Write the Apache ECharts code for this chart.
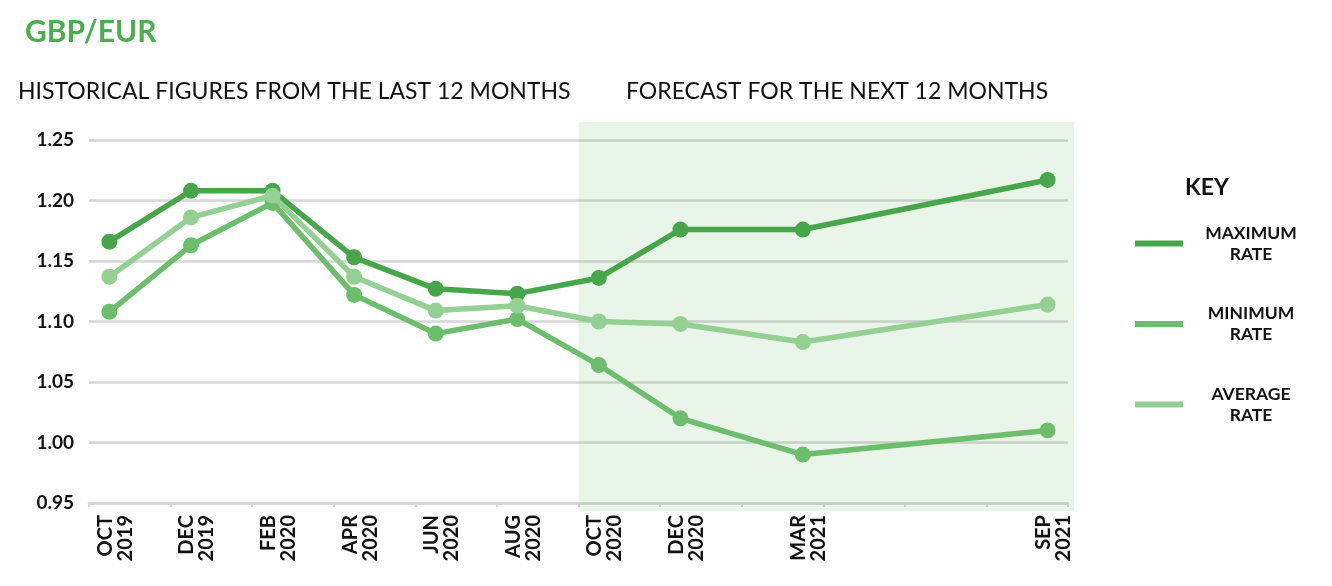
<!DOCTYPE html>
<html>
<head>
<meta charset="utf-8">
<script src="https://cdn.jsdelivr.net/npm/echarts@6/dist/echarts.min.js"></script>
<style>
html,body{margin:0;padding:0;background:#fff;}
#chart{width:1332px;height:586px;}
</style>
</head>
<body>
<div id="chart"></div>
<script>
// ---- data ----
const axisMonths = ['OCT 2019','NOV 2019','DEC 2019','JAN 2020','FEB 2020','MAR 2020','APR 2020','MAY 2020',
  'JUN 2020','JUL 2020','AUG 2020','SEP 2020','OCT 2020','NOV 2020','DEC 2020','JAN 2021','FEB 2021',
  'MAR 2021','APR 2021','MAY 2021','JUN 2021','JUL 2021','AUG 2021','SEP 2021'];
const dataMonths = ['OCT 2019','DEC 2019','FEB 2020','APR 2020','JUN 2020','AUG 2020','OCT 2020','DEC 2020','MAR 2021','SEP 2021'];
const maxRate = [1.166, 1.208, 1.208, 1.153, 1.127, 1.123, 1.136, 1.176, 1.176, 1.217];
const minRate = [1.108, 1.163, 1.198, 1.122, 1.090, 1.102, 1.064, 1.020, 0.990, 1.010];
const avgRate = [1.137, 1.186, 1.204, 1.137, 1.109, 1.113, 1.100, 1.098, 1.083, 1.114];
const seriesNames = ['MAXIMUM RATE', 'MINIMUM RATE', 'AVERAGE RATE'];
const forecastStart = 'OCT 2020';
const yTicks = [0.95, 1.00, 1.05, 1.10, 1.15, 1.20, 1.25];

const colors = ['#48a64a', '#6cbd6c', '#94d094'];
const FONT = 'Lato, "Noto Sans", sans-serif';

function pairs(vals) {
  return dataMonths.map((m, i) => [axisMonths.indexOf(m), vals[i]]);
}
// forecast band (in axis units): from half a month before the first forecast month
const fStart = axisMonths.indexOf(forecastStart) - 0.5;
const fEnd = axisMonths.length - 1 + 0.65;
const fTop = yTicks[yTicks.length - 1] + 0.0149;
const fBottom = yTicks[0] - 0.0066;

const chart = echarts.init(document.getElementById('chart'), null, {renderer: 'canvas'});

const lineSeries = [maxRate, minRate, avgRate].map((vals, i) => ({
  name: seriesNames[i],
  type: 'line',
  xAxisIndex: 1,
  yAxisIndex: 0,
  data: pairs(vals),
  symbol: 'circle',
  symbolSize: 16,
  lineStyle: {width: 5.5, color: colors[i]},
  itemStyle: {color: colors[i]},
  z: 2 + i,
  clip: false,
  animation: false
}));

const labelFont = {fontFamily: FONT, fontSize: 20, fontWeight: 'bold', color: '#111'};

chart.setOption({
  animation: false,
  backgroundColor: '#ffffff',
  title: [
    {text: 'GBP/EUR', left: 20, top: 12,
     textStyle: {fontFamily: FONT, fontSize: 30, fontWeight: 'bold', color: '#4cae4f', lineHeight: 30}},
    {text: 'HISTORICAL FIGURES FROM THE LAST 12 MONTHS', left: 13, top: 75,
     textStyle: {fontFamily: FONT, fontSize: 23, fontWeight: 'normal', color: '#111', lineHeight: 24}},
    {text: 'FORECAST FOR THE NEXT 12 MONTHS', left: 621, top: 75,
     textStyle: {fontFamily: FONT, fontSize: 23, fontWeight: 'normal', color: '#111', lineHeight: 24}},
    {text: 'KEY', left: 1180, top: 171,
     textStyle: {fontFamily: FONT, fontSize: 23, fontWeight: 'bold', color: '#111', lineHeight: 23}}
  ],
  legend: {
    data: seriesNames,
    orient: 'vertical',
    left: 1130,
    top: 219,
    itemWidth: 48,
    itemHeight: 6,
    itemGap: 41.5,
    icon: 'rect',
    selectedMode: false,
    formatter: name => name.split(' ').map(w => '{a|' + w + '}').join('\n'),
    textStyle: {
      rich: {a: {width: 126, align: 'center', fontFamily: FONT, fontSize: 17.5, fontWeight: 'bold',
                 color: '#111', lineHeight: 21}}
    }
  },
  grid: {left: 89, right: 264, top: 140, bottom: 83, containLabel: false},
  xAxis: [
    {
      type: 'category',
      data: axisMonths,
      boundaryGap: true,
      axisLine: {show: true, lineStyle: {color: '#d6d6d6', width: 2.5}},
      axisTick: {show: true, interval: 1, length: 4, lineStyle: {color: '#d6d6d6', width: 2}},
      splitLine: {show: false},
      axisLabel: {
        interval: (idx, val) => dataMonths.indexOf(val) >= 0,
        formatter: val => {
          const p = val.split(' ');
          return '{m|' + p[0] + '}\n{y|' + p[1] + '}';
        },
        rotate: 90,
        margin: 12,
        rich: {
          m: Object.assign({lineHeight: 32, verticalAlign: 'bottom'}, labelFont),
          y: Object.assign({lineHeight: 20}, labelFont)
        }
      }
    },
    {
      type: 'value',
      min: -0.5,
      max: axisMonths.length - 0.5,
      show: false
    }
  ],
  yAxis: {
    type: 'value',
    min: yTicks[0],
    max: yTicks[yTicks.length - 1],
    interval: 0.05,
    axisLine: {show: false},
    axisTick: {show: false},
    splitLine: {show: true, lineStyle: {color: '#d6d6d6', width: 2.5}},
    axisLabel: {
      margin: 15,
      formatter: v => v.toFixed(2),
      fontFamily: FONT, fontSize: 19, fontWeight: 'bold', color: '#111'
    }
  },
  series: lineSeries
});

// forecast shading positioned through the chart's own scales
const p1 = chart.convertToPixel({xAxisIndex: 1, yAxisIndex: 0}, [fStart, fTop]);
const p2 = chart.convertToPixel({xAxisIndex: 1, yAxisIndex: 0}, [fEnd, fBottom]);
chart.setOption({
  graphic: [{
    type: 'rect',
    silent: true,
    z: 1,
    shape: {x: p1[0], y: p1[1], width: p2[0] - p1[0], height: p2[1] - p1[1]},
    style: {fill: 'rgba(76,175,80,0.13)'}
  }]
});
</script>
</body>
</html>
